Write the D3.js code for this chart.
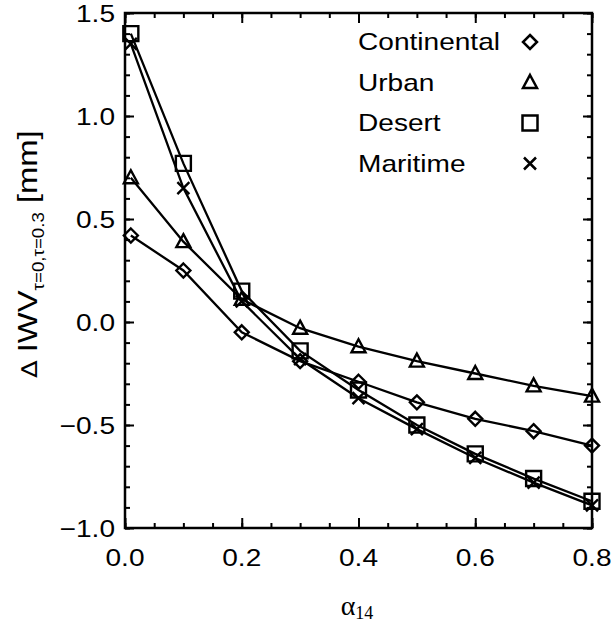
<!DOCTYPE html>
<html>
<head>
<meta charset="utf-8">
<script src="https://cdn.jsdelivr.net/npm/d3@7"></script>
<style>
  body { margin: 0; background: #fff; }
  text { font-family: "Liberation Sans", Arial, sans-serif; fill: #000; }
</style>
</head>
<body>
<div id="chart"></div>
<script>
let width = 612, height = 623;

// data
let alpha = [0.01, 0.1, 0.2, 0.3, 0.4, 0.5, 0.6, 0.7, 0.8];
let continental = [0.42, 0.25, -0.05, -0.19, -0.29, -0.39, -0.47, -0.53, -0.60];
let urban = [0.70, 0.39, 0.11, -0.03, -0.12, -0.19, -0.25, -0.31, -0.36];
let desert = [1.40, 0.77, 0.15, -0.14, -0.33, -0.50, -0.64, -0.76, -0.87];
let maritime = [1.35, 0.65, 0.10, -0.18, -0.37, -0.52, -0.66, -0.78, -0.89];

let seriesNames = ["Continental", "Urban", "Desert", "Maritime"];
let seriesSymbols = ["diamond", "triangle", "square", "cross"];
let xTicks = [0.0, 0.2, 0.4, 0.6, 0.8];
let yTicks = [-1.0, -0.5, 0.0, 0.5, 1.0, 1.5];

let series = [continental, urban, desert, maritime];

let margin = {left: 125, right: 20, top: 13, bottom: 95};
let stretch = 1.17; // glyphs in the original are wider than Helvetica

let svg = d3.select("#chart")
    .append("svg")
    .attr("width", width)
    .attr("height", height);

let x = d3.scaleLinear().domain([0, 0.8]).range([margin.left, width - margin.right]);
let y = d3.scaleLinear().domain([-1.0, 1.5]).range([height - margin.bottom, margin.top]);

// minor tick positions
let xMinor = d3.range(0, 0.8001, 0.05);
let yMinor = d3.range(-1.0, 1.5001, 0.1);

function styleAxis(g) {
    g.select(".domain").remove();
    g.selectAll("line").attr("stroke", "#000").attr("stroke-width", 2);
}

// minor ticks (inward on all four sides)
svg.append("g").attr("transform", `translate(0,${y(-1)})`)
    .call(d3.axisTop(x).tickValues(xMinor).tickSize(5).tickFormat(""))
    .call(styleAxis);
svg.append("g").attr("transform", `translate(0,${y(1.5)})`)
    .call(d3.axisBottom(x).tickValues(xMinor).tickSize(5).tickFormat(""))
    .call(styleAxis);
svg.append("g").attr("transform", `translate(${x(0)},0)`)
    .call(d3.axisRight(y).tickValues(yMinor).tickSize(5).tickFormat(""))
    .call(styleAxis);
svg.append("g").attr("transform", `translate(${x(0.8)},0)`)
    .call(d3.axisLeft(y).tickValues(yMinor).tickSize(5).tickFormat(""))
    .call(styleAxis);

// major ticks
svg.append("g").attr("transform", `translate(0,${y(-1)})`)
    .call(d3.axisTop(x).tickValues(xTicks).tickSize(10).tickFormat(""))
    .call(styleAxis);
svg.append("g").attr("transform", `translate(0,${y(1.5)})`)
    .call(d3.axisBottom(x).tickValues(xTicks).tickSize(10).tickFormat(""))
    .call(styleAxis);
svg.append("g").attr("transform", `translate(${x(0)},0)`)
    .call(d3.axisRight(y).tickValues(yTicks).tickSize(9).tickFormat(""))
    .call(styleAxis);
svg.append("g").attr("transform", `translate(${x(0.8)},0)`)
    .call(d3.axisLeft(y).tickValues(yTicks).tickSize(9).tickFormat(""))
    .call(styleAxis);

// tick labels
svg.append("g").selectAll("text")
    .data(xTicks)
    .enter().append("text")
    .attr("transform", d => `translate(${x(d)},${y(-1) + 38}) scale(${stretch},1)`)
    .attr("text-anchor", "middle")
    .style("font-size", "24px")
    .text(d => d3.format(".1f")(d));

svg.append("g").selectAll("text")
    .data(yTicks)
    .enter().append("text")
    .attr("transform", d => `translate(${x(0) - 10},${y(d) + 9}) scale(${stretch},1)`)
    .attr("text-anchor", "end")
    .style("font-size", "24px")
    .text(d => d3.format(".1f")(d).replace("-", "\u2212"));

// frame
svg.append("rect")
    .attr("x", x(0)).attr("y", y(1.5))
    .attr("width", x(0.8) - x(0)).attr("height", y(-1) - y(1.5))
    .attr("fill", "none").attr("stroke", "#000").attr("stroke-width", 2.5);

// symbols
function symbolPath(kind) {
    if (kind == "diamond") return "M0,-7L7,0L0,7L-7,0Z";
    if (kind == "triangle") return "M0,-7.5L7,5.5L-7,5.5Z";
    if (kind == "square") return "M-7.5,-7.5H7.5V7.5H-7.5Z";
    return "M-6,-6L6,6M-6,6L6,-6";
}

let line = d3.line()
    .x((d, i) => x(alpha[i]))
    .y(d => y(d));

let plot = svg.append("g");

series.forEach((vals, k) => {
    plot.append("path")
        .datum(vals)
        .attr("d", line)
        .attr("fill", "none")
        .attr("stroke", "#000")
        .attr("stroke-width", 2.3);

    plot.append("g").selectAll("path")
        .data(vals)
        .enter().append("path")
        .attr("transform", (d, i) => `translate(${x(alpha[i])},${y(d)})`)
        .attr("d", symbolPath(seriesSymbols[k]))
        .attr("fill", "none")
        .attr("stroke", "#000")
        .attr("stroke-width", 2.4);
});

// legend
let legend = svg.append("g");
seriesNames.forEach((name, k) => {
    let ly = 50 + k * 40.5;
    legend.append("text")
        .attr("transform", `translate(358,${ly}) scale(${stretch},1)`)
        .style("font-size", "24px")
        .text(name);
    legend.append("path")
        .attr("transform", `translate(530,${ly - 8})`)
        .attr("d", symbolPath(seriesSymbols[k]))
        .attr("fill", "none")
        .attr("stroke", "#000")
        .attr("stroke-width", 2.5);
});

// axis titles
let xTitle = svg.append("text")
    .attr("x", 357).attr("y", 615)
    .attr("text-anchor", "middle")
    .style("font-family", "'Liberation Serif', 'Times New Roman', serif")
    .style("font-size", "28px");
xTitle.append("tspan").text("\u03b1");
xTitle.append("tspan").attr("dy", 4).style("font-size", "18px").text("14");

let yTitle = svg.append("text")
    .attr("transform", `translate(37,254) rotate(-90) scale(${stretch},1)`)
    .attr("text-anchor", "middle")
    .style("font-size", "28px");
yTitle.append("tspan").style("font-family", "'DejaVu Sans', sans-serif").style("font-size", "22px").text("\u2206 ");
yTitle.append("tspan").text("IWV");
yTitle.append("tspan").attr("dy", 7).style("font-size", "16px").text("\u03c4=0,\u03c4=0.3");
yTitle.append("tspan").attr("dy", -7).text(" [mm]");
</script>
</body>
</html>
